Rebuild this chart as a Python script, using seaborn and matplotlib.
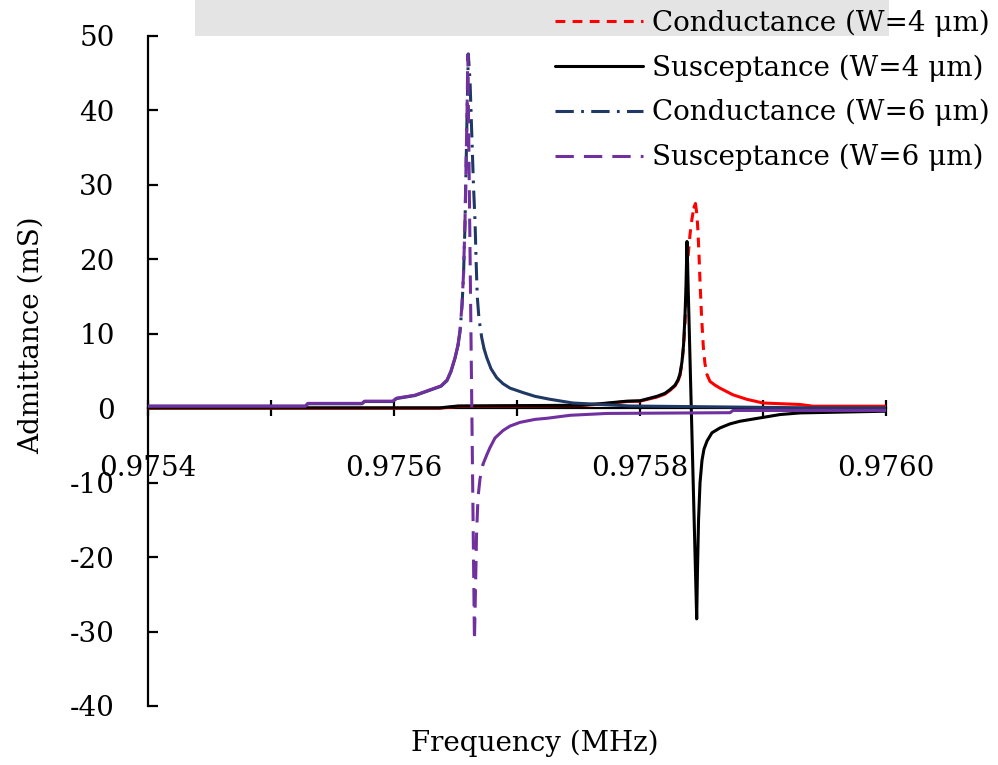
import numpy as np
import pandas as pd
import matplotlib
matplotlib.use("Agg")
import matplotlib.pyplot as plt
from matplotlib.lines import Line2D
from matplotlib.patches import Rectangle
from matplotlib.ticker import MultipleLocator, FuncFormatter
import seaborn as sns

# ---------------- data ----------------
# Conductance, W = 4 um
freq_g4 = [0.97540, 0.9756374, 0.975652, 0.9757512, 0.9757675, 0.9757894, 0.9758000,
           0.9758138, 0.9758203, 0.9758244, 0.9758285, 0.9758309, 0.9758325, 0.9758341,
           0.9758354, 0.9758366, 0.9758374, 0.9758390, 0.9758407, 0.9758423, 0.9758439,
           0.9758451, 0.9758463, 0.9758472, 0.9758480, 0.9758488, 0.9758500, 0.9758515,
           0.9758528, 0.9758545, 0.9758569, 0.9758610, 0.9758650, 0.9758756, 0.9758868,
           0.9759000, 0.9759301, 0.9759407, 0.97600]
g4 = [0.0, 0.0, 0.25, 0.35, 0.55, 0.9, 0.95,
      1.5, 1.9, 2.4, 3.0, 3.7, 4.4, 6.0,
      8.2, 11.5, 15.0, 20.2, 23.4, 25.5, 27.0,
      27.5, 26.0, 23.5, 20.5, 17.0, 12.5, 8.2,
      6.0, 4.5, 3.6, 3.1, 2.7, 1.8, 1.2,
      0.7, 0.5, 0.27, 0.27]

# Susceptance, W = 4 um
freq_b4 = [0.97540, 0.9756374, 0.975652, 0.9757512, 0.9757675, 0.9757894, 0.9758000,
           0.9758138, 0.9758203, 0.9758244, 0.9758285, 0.9758309, 0.9758325, 0.9758341,
           0.9758354, 0.9758366, 0.9758374, 0.9758382, 0.9758461, 0.9758467, 0.9758476,
           0.9758488, 0.9758504, 0.9758520, 0.9758545, 0.9758585, 0.9758650, 0.9758732,
           0.9758813, 0.9758976, 0.9759138, 0.9759301, 0.97600]
b4 = [0.05, 0.05, 0.3, 0.4, 0.6, 0.95, 1.0,
      1.6, 2.0, 2.5, 3.1, 3.8, 4.6, 6.2,
      8.5, 12.5, 16.5, 22.4, -28.3, -22.0, -15.0,
      -10.0, -7.0, -5.5, -4.4, -3.3, -2.65, -2.1,
      -1.75, -1.3, -0.85, -0.63, -0.4]

# Conductance, W = 6 um
freq_g6 = [0.97540, 0.975528, 0.975530, 0.975574, 0.975576, 0.975599, 0.975602,
           0.975617, 0.975628, 0.9756382, 0.9756431, 0.9756463, 0.9756496, 0.9756520,
           0.9756537, 0.9756553, 0.9756565, 0.9756577, 0.9756585, 0.9756594, 0.9756604,
           0.9756618, 0.9756632, 0.9756646, 0.9756659, 0.9756669, 0.9756677, 0.9756691,
           0.9756713, 0.9756732, 0.9756754, 0.9756789, 0.9756835, 0.9756886, 0.9756943,
           0.9757049, 0.9757146, 0.9757268, 0.9757455, 0.9757919, 0.9759382, 0.97600]
g6 = [0.25, 0.25, 0.6, 0.6, 0.9, 0.9, 1.3,
      1.7, 2.35, 2.95, 3.7, 4.9, 6.7, 8.4,
      10.3, 13.8, 17.8, 24.5, 31.5, 39.5, 47.6,
      44.0, 37.0, 30.0, 25.0, 19.0, 15.0, 12.0,
      9.5, 8.0, 6.8, 5.3, 4.1, 3.3, 2.7,
      2.1, 1.6, 1.2, 0.7, 0.3, 0.05, 0.05]

# Susceptance, W = 6 um
freq_b6 = [0.97540, 0.975528, 0.975530, 0.975574, 0.975576, 0.975599, 0.975602,
           0.975617, 0.975628, 0.9756382, 0.9756431, 0.9756463, 0.9756496, 0.9756520,
           0.9756537, 0.9756553, 0.9756565, 0.9756577, 0.9756585, 0.9756594, 0.9756600,
           0.9756654, 0.9756663, 0.9756671, 0.9756683, 0.9756699, 0.9756724, 0.9756756,
           0.9756780, 0.9756821, 0.9756886, 0.9756943, 0.9757024, 0.9757146, 0.9757244,
           0.9757431, 0.9757732, 0.9758732, 0.9758756, 0.97600]
b6 = [0.3, 0.3, 0.65, 0.65, 0.95, 0.95, 1.35,
      1.75, 2.4, 3.0, 3.8, 5.0, 6.8, 8.5,
      10.5, 14.0, 18.0, 25.0, 32.0, 40.0, 47.5,
      -31.2, -24.0, -17.0, -12.0, -9.5, -7.5, -6.2,
      -5.3, -4.0, -3.0, -2.4, -1.9, -1.5, -1.35,
      -0.95, -0.7, -0.6, -0.3, -0.3]

labels = ["Conductance (W=4 \u03bcm)", "Susceptance (W=4 \u03bcm)",
          "Conductance (W=6 \u03bcm)", "Susceptance (W=6 \u03bcm)"]
x_ticks = [0.9754, 0.9756, 0.9758, 0.9760]
y_ticks = [-40, -30, -20, -10, 0, 10, 20, 30, 40, 50]

# ---------------- styling ----------------
sns.set_theme(style="white")
plt.rcParams["font.family"] = ["DejaVu Serif"]
plt.rcParams["axes.unicode_minus"] = False

colors = ["#FF0000", "#000000", "#1F3864", "#7030A0"]
patterns = [(3.2, 2.4), None, (6.0, 2.4, 0.9, 2.4), (6.0, 3.3)]
LW = 2.2

fig = plt.figure(figsize=(9.98, 7.65), dpi=100)
fig.patches.append(Rectangle((195 / 998, 1 - 36 / 765), (889 - 195) / 998, 36 / 765,
                             transform=fig.transFigure, facecolor="#E4E4E4",
                             edgecolor="none", zorder=0))
ax = fig.add_axes([148 / 998, 1 - 706 / 765, (886 - 148) / 998, (706 - 36) / 765])
ax.set_facecolor("white")
ax.set_xlim(0.9754, 0.9760)
ax.set_ylim(-40, 50)


def runs(freq, vals, steep=4.5):
    """Excel draws its dense, gently sloping stretches as visually solid;
    only steep stretches show the dash pattern. Split each series into
    consecutive runs of steep / gentle segments."""
    f = np.asarray(freq, float)
    v = np.asarray(vals, float)
    pts = ax.transData.transform(np.column_stack([f, v]))
    rows = []
    unit = -1
    prev = None
    for i in range(len(f) - 1):
        dx = abs(pts[i + 1, 0] - pts[i, 0])
        dy = abs(pts[i + 1, 1] - pts[i, 1])
        kind = "dash" if dy > steep * max(dx, 1e-9) else "solid"
        if kind != prev:
            unit += 1
            rows.append((f[i], v[i], unit, kind))
        rows.append((f[i + 1], v[i + 1], unit, kind))
        prev = kind
    return pd.DataFrame(rows, columns=["freq", "val", "seg", "kind"])


series = [(freq_g4, g4), (freq_b4, b4), (freq_g6, g6), (freq_b6, b6)]
for k, ((fr, vv), col, pat) in enumerate(zip(series, colors, patterns)):
    if pat is None:
        df = pd.DataFrame({"freq": fr, "val": vv})
        sns.lineplot(data=df, x="freq", y="val", color=col, lw=LW, ax=ax,
                     legend=False, sort=False, zorder=3 + k)
    else:
        df = runs(fr, vv)
        sns.lineplot(data=df, x="freq", y="val", units="seg", estimator=None,
                     style="kind", dashes={"solid": "", "dash": pat},
                     color=col, lw=LW, ax=ax, legend=False, sort=False,
                     zorder=3 + k, solid_capstyle="round", dash_capstyle="butt")

# ---------------- axes ----------------
for s in ["top", "right"]:
    ax.spines[s].set_visible(False)
ax.spines["bottom"].set_position(("data", 0))
ax.spines["bottom"].set_zorder(2)
for s in ["bottom", "left"]:
    ax.spines[s].set_color("black")
    ax.spines[s].set_linewidth(1.6)

ax.set_xticks(x_ticks)
ax.xaxis.set_minor_locator(MultipleLocator(0.0001))
ax.xaxis.set_major_formatter(FuncFormatter(lambda v, p: f"{v:.4f}"))
ax.set_yticks(y_ticks)
ax.yaxis.set_major_formatter(FuncFormatter(lambda v, p: f"{v:.0f}"))
ax.tick_params(axis="x", which="both", direction="inout", length=12, width=1.6,
               color="black", pad=27.5, labelsize=20, labelcolor="black",
               bottom=True)
ax.tick_params(axis="y", which="major", direction="in", length=7, width=1.6,
               color="black", pad=24, labelsize=20, labelcolor="black", left=True)
ax.grid(False)

ax.set_xlabel("Frequency (MHz)", fontsize=20, color="black", va="top")
ax.xaxis.set_label_coords(0.524, -0.036)
ax.set_ylabel("Admittance (mS)", fontsize=20, color="black")
ax.yaxis.set_label_coords(-0.14, 0.554)

handles = []
for col, pat in zip(colors, patterns):
    ls = "-" if pat is None else (0, pat)
    handles.append(Line2D([], [], color=col, lw=LW, linestyle=ls))
leg = fig.legend(handles, labels, loc="upper right",
                 bbox_to_anchor=(991 / 998, 1 - 8 / 765),
                 frameon=False, fontsize=20, handlelength=3.15, handletextpad=0.32,
                 labelspacing=0.63, borderpad=0.05, borderaxespad=0)
for t in leg.get_texts():
    t.set_color("black")

fig.savefig("out.png", dpi=100, facecolor="white")
